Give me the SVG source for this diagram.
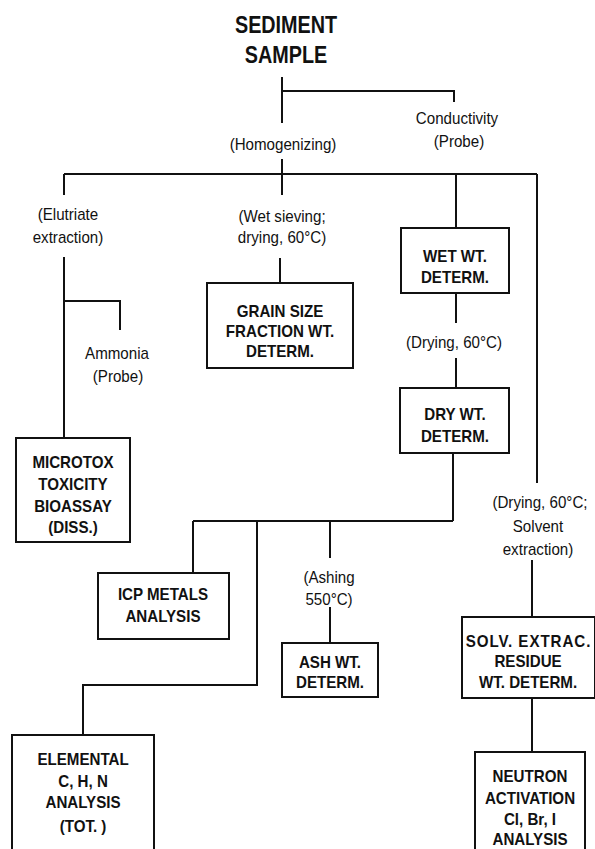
<svg xmlns="http://www.w3.org/2000/svg" width="595" height="849" viewBox="0 0 595 849">
<style>
.bg{fill:#fff}
.ln{fill:none;stroke:#111;stroke-width:2}
.box{fill:#fff;stroke:#111;stroke-width:2}
text{font-family:"Liberation Sans",Arial,sans-serif;fill:#111;text-anchor:middle}
.lb{font-size:17px}
.bx{font-size:17px;font-weight:bold}
.tt{font-size:23px;font-weight:bold}
</style>
<rect class="bg" x="0" y="0" width="595" height="849"/>
<g id="connectors">
<path class="ln" d="M282,77 V123 M282,91 H454 V102"/>
<path class="ln" d="M282,159 V195 M64,174 H537 M64,174 V195 M456,174 V228 M537,174 V483"/>
<path class="ln" d="M64,257 V437 M64,301 H120 V330"/>
<path class="ln" d="M280,258 V283"/>
<path class="ln" d="M456,293 V323 M456,358 V388"/>
<path class="ln" d="M453,453 V521 M193,521 H453 M193,521 V573 M257,521 V685 H83 V735 M330,521 V558 M330,607 V643"/>
<path class="ln" d="M532,560 V617 M532,698 V752"/>
</g>
<g id="title" transform="scale(0.86,1)">
<text class="tt" x="332.6" y="33">SEDIMENT</text>
<text class="tt" x="332.6" y="63">SAMPLE</text>
</g>
<g id="label-conductivity" transform="scale(0.89,1)">
<text class="lb" x="513.5" y="124">Conductivity</text>
<text class="lb" x="515.7" y="147">(Probe)</text>
</g>
<g id="label-homogenizing" transform="scale(0.89,1)">
<text class="lb" x="318" y="150">(Homogenizing)</text>
</g>
<g id="label-elutriate" transform="scale(0.89,1)">
<text class="lb" x="76.4" y="220">(Elutriate</text>
<text class="lb" x="76.4" y="243">extraction)</text>
</g>
<g id="label-ammonia" transform="scale(0.89,1)">
<text class="lb" x="131.5" y="359">Ammonia</text>
<text class="lb" x="132.6" y="382">(Probe)</text>
</g>
<g id="label-wetsieving" transform="scale(0.89,1)">
<text class="lb" x="316.9" y="222">(Wet sieving;</text>
<text class="lb" x="316.9" y="243">drying, 60°C)</text>
</g>
<g id="node-grain">
<rect class="box" x="207" y="283" width="146" height="85"/>
<g transform="scale(0.89,1)">
<text class="bx" x="314.6" y="317">GRAIN SIZE</text>
<text class="bx" x="314.6" y="337">FRACTION WT.</text>
<text class="bx" x="314.6" y="357">DETERM.</text>
</g>
</g>
<g id="node-wet">
<rect class="box" x="401" y="228" width="108" height="65"/>
<g transform="scale(0.89,1)">
<text class="bx" x="511.2" y="262">WET WT.</text>
<text class="bx" x="511.2" y="283">DETERM.</text>
</g>
</g>
<g id="label-drying1" transform="scale(0.89,1)">
<text class="lb" x="510.1" y="348">(Drying, 60°C)</text>
</g>
<g id="node-dry">
<rect class="box" x="400" y="388" width="109" height="65"/>
<g transform="scale(0.89,1)">
<text class="bx" x="511.2" y="420">DRY WT.</text>
<text class="bx" x="511.2" y="442">DETERM.</text>
</g>
</g>
<g id="node-microtox">
<rect class="box" x="16" y="438" width="114" height="104"/>
<g transform="scale(0.89,1)">
<text class="bx" x="82" y="468">MICROTOX</text>
<text class="bx" x="82" y="490">TOXICITY</text>
<text class="bx" x="82" y="512">BIOASSAY</text>
<text class="bx" x="82" y="533">(DISS.)</text>
</g>
</g>
<g id="node-icp">
<rect class="box" x="98" y="573" width="131" height="66"/>
<g transform="scale(0.89,1)">
<text class="bx" x="183.1" y="600">ICP METALS</text>
<text class="bx" x="183.1" y="622">ANALYSIS</text>
</g>
</g>
<g id="label-ashing" transform="scale(0.89,1)">
<text class="lb" x="369.7" y="583">(Ashing</text>
<text class="lb" x="369.7" y="605">550°C)</text>
</g>
<g id="node-ash">
<rect class="box" x="282" y="643" width="96" height="54"/>
<g transform="scale(0.89,1)">
<text class="bx" x="370.8" y="668">ASH WT.</text>
<text class="bx" x="370.8" y="688">DETERM.</text>
</g>
</g>
<g id="label-drying2" transform="scale(0.89,1)">
<text class="lb" x="606.7" y="508">(Drying, 60°C;</text>
<text class="lb" x="604.5" y="532">Solvent</text>
<text class="lb" x="604.5" y="555">extraction)</text>
</g>
<g id="node-solv">
<rect class="box" x="462" y="617" width="133" height="81"/>
<g transform="scale(0.89,1)">
<text class="bx" x="593.3" y="647" textLength="140" lengthAdjust="spacing">SOLV. EXTRAC.</text>
<text class="bx" x="593.3" y="667">RESIDUE</text>
<text class="bx" x="593.3" y="688">WT. DETERM.</text>
</g>
</g>
<g id="node-elemental">
<rect class="box" x="12" y="735" width="142" height="125"/>
<g transform="scale(0.89,1)">
<text class="bx" x="93.3" y="765">ELEMENTAL</text>
<text class="bx" x="93.3" y="787">C, H, N</text>
<text class="bx" x="93.3" y="808">ANALYSIS</text>
<text class="bx" x="93.3" y="832">(TOT. )</text>
</g>
</g>
<g id="node-neutron">
<rect class="box" x="475" y="752" width="110" height="110"/>
<g transform="scale(0.89,1)">
<text class="bx" x="595.5" y="782">NEUTRON</text>
<text class="bx" x="595.5" y="804">ACTIVATION</text>
<text class="bx" x="595.5" y="825">Cl, Br, I</text>
<text class="bx" x="595.5" y="845">ANALYSIS</text>
</g>
</g>
</svg>
